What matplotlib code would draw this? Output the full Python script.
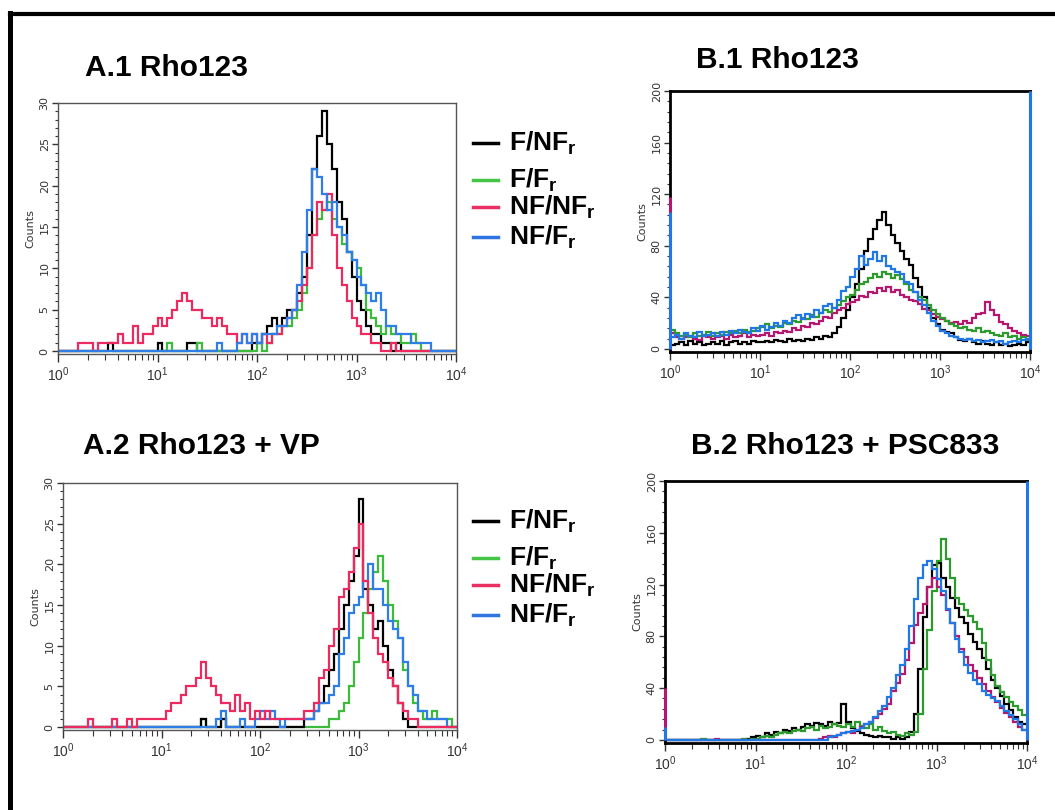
import matplotlib
matplotlib.use("Agg")
import matplotlib.pyplot as plt
import numpy as np
from matplotlib.ticker import MultipleLocator, LogLocator, NullFormatter, FixedLocator
from matplotlib.lines import Line2D

plt.rcParams['mathtext.fontset'] = 'custom'
plt.rcParams['mathtext.bf'] = 'Liberation Sans:bold'
plt.rcParams['mathtext.rm'] = 'Liberation Sans'

# channel edges: 20 bins per decade, 10^0 .. 10^4
edges = np.logspace(0, 4, 81)

# ---- A.1 Rho123 (counts 0-30)
a1_black = [0, 0, 0, 0, 0, 0, 0, 0, 0, 0,
            1, 0, 0, 0, 0, 0, 0, 0, 0, 0,
            1, 0, 0, 0, 0, 0, 1, 1, 0, 0,
            0, 0, 0, 0, 0, 0, 0, 0, 0, 1,
            1, 2, 3, 4, 3, 4, 5, 5, 7, 9,
            14, 22, 26, 29, 25, 22, 18, 16, 12, 9,
            6, 5, 3, 2, 2, 1, 1, 0, 1, 0,
            0, 0, 0, 0, 0, 0, 0, 0, 0, 0]
a1_green = [0, 0, 0, 0, 0, 0, 0, 0, 0, 0,
            0, 0, 0, 0, 0, 0, 0, 0, 0, 0,
            0, 0, 1, 0, 0, 0, 0, 0, 1, 0,
            0, 0, 0, 0, 0, 0, 0, 0, 0, 0,
            1, 0, 1, 2, 2, 3, 3, 4, 5, 7,
            10, 14, 16, 17, 18, 16, 15, 13, 12, 11,
            10, 8, 5, 4, 3, 2, 3, 2, 2, 1,
            1, 2, 1, 0, 0, 0, 0, 0, 0, 0]
a1_pink = [0, 0, 0, 0, 1, 1, 1, 0, 1, 1,
           1, 1, 2, 1, 1, 3, 1, 2, 2, 3,
           4, 3, 4, 5, 6, 7, 6, 5, 5, 4,
           4, 3, 4, 3, 2, 2, 1, 2, 1, 2,
           1, 2, 1, 2, 2, 3, 4, 5, 6, 8,
           10, 14, 18, 17, 19, 14, 10, 8, 6, 4,
           3, 2, 2, 1, 1, 0, 0, 1, 0, 0,
           0, 0, 0, 0, 0, 0, 0, 0, 0, 0]
a1_blue = [0, 0, 0, 0, 0, 0, 0, 0, 0, 0,
           0, 0, 0, 0, 0, 0, 0, 0, 0, 0,
           0, 0, 0, 0, 0, 0, 0, 0, 0, 0,
           0, 0, 1, 0, 0, 0, 1, 2, 1, 2,
           1, 2, 2, 2, 3, 3, 4, 5, 8, 12,
           17, 22, 21, 19, 17, 18, 15, 14, 12, 11,
           9, 8, 7, 6, 7, 5, 3, 3, 2, 2,
           2, 1, 1, 1, 1, 0, 0, 0, 0, 0]

# ---- A.2 Rho123 + VP (counts 0-30)
a2_black = [0, 0, 0, 0, 0, 0, 0, 0, 0, 0,
            0, 0, 0, 0, 0, 0, 0, 0, 0, 0,
            0, 0, 0, 0, 0, 0, 0, 0, 1, 0,
            0, 0, 1, 0, 0, 0, 0, 0, 0, 0,
            0, 0, 0, 0, 0, 0, 0, 0, 0, 1,
            1, 2, 3, 5, 7, 9, 12, 15, 18, 21,
            28, 17, 15, 12, 13, 10, 7, 5, 3, 1,
            0, 0, 0, 0, 0, 0, 0, 0, 0, 0]
a2_green = [0, 0, 0, 0, 0, 0, 0, 0, 0, 0,
            0, 0, 0, 0, 0, 0, 0, 0, 0, 0,
            0, 0, 0, 0, 0, 0, 0, 0, 1, 0,
            0, 0, 1, 0, 0, 0, 0, 0, 0, 0,
            0, 0, 0, 0, 0, 0, 0, 0, 0, 0,
            0, 0, 0, 0, 1, 1, 2, 3, 5, 8,
            11, 14, 17, 19, 21, 18, 15, 13, 11, 7,
            5, 3, 2, 1, 1, 2, 1, 1, 1, 0]
a2_pink = [0, 0, 0, 0, 0, 1, 0, 0, 0, 0,
           1, 0, 0, 1, 0, 1, 1, 1, 1, 1,
           1, 2, 3, 3, 4, 5, 5, 6, 8, 6,
           5, 4, 3, 3, 2, 4, 2, 3, 1, 2,
           1, 2, 1, 1, 1, 1, 1, 1, 1, 2,
           2, 3, 6, 7, 10, 12, 16, 17, 19, 22,
           25, 18, 14, 11, 9, 8, 6, 5, 3, 2,
           1, 1, 0, 0, 0, 0, 0, 0, 0, 0]
a2_blue = [0, 0, 0, 0, 0, 0, 0, 0, 0, 0,
           0, 0, 0, 0, 0, 0, 0, 0, 0, 0,
           0, 0, 0, 0, 0, 0, 0, 0, 0, 0,
           0, 1, 2, 0, 0, 0, 1, 0, 0, 1,
           2, 1, 2, 1, 0, 1, 1, 1, 1, 1,
           1, 2, 3, 3, 4, 5, 9, 11, 14, 15,
           16, 18, 20, 17, 17, 15, 13, 12, 11, 8,
           5, 4, 2, 2, 1, 1, 1, 1, 0, 0]

# ---- B.1 Rho123 (counts 0-200)
b1_black = [3, 4, 5, 3, 6, 4, 5, 3, 4, 5,
            4, 6, 3, 5, 6, 4, 5, 4, 6, 5,
            5, 6, 5, 7, 6, 5, 8, 6, 7, 6,
            8, 7, 9, 8, 10, 9, 12, 17, 24, 30,
            40, 50, 62, 76, 85, 93, 100, 106, 96, 88,
            82, 76, 70, 65, 55, 48, 40, 32, 24, 19,
            15, 13, 12, 9, 7, 6, 8, 5, 4, 6,
            4, 3, 5, 3, 4, 2, 3, 4, 3, 5]
b1_green = [15, 12, 10, 11, 9, 12, 10, 11, 13, 10,
            12, 11, 13, 12, 14, 12, 15, 13, 14, 16,
            17, 19, 16, 18, 17, 20, 19, 22, 21, 24,
            23, 26, 25, 28, 30, 29, 32, 34, 37, 40,
            42, 46, 50, 52, 55, 58, 56, 60, 58, 55,
            57, 54, 50, 46, 44, 40, 38, 34, 30, 27,
            24, 22, 19, 18, 16, 17, 15, 14, 16, 13,
            14, 12, 11, 10, 12, 9, 10, 8, 9, 7]
b1_magenta = [12, 9, 8, 9, 10, 8, 7, 10, 9, 8,
              9, 10, 8, 11, 9, 10, 12, 9, 11, 10,
              11, 12, 10, 13, 12, 14, 13, 16, 15, 18,
              17, 20, 19, 22, 25, 24, 28, 30, 32, 35,
              36, 38, 41, 40, 44, 43, 47, 45, 48, 44,
              46, 42, 40, 38, 37, 35, 31, 30, 27, 25,
              23, 22, 20, 21, 19, 22, 20, 24, 27, 28,
              36, 30, 26, 21, 19, 16, 14, 12, 11, 10]
b1_blue = [9, 11, 8, 12, 10, 9, 13, 10, 11, 12,
           10, 13, 11, 14, 12, 15, 13, 12, 16, 14,
           18, 15, 17, 20, 18, 22, 20, 24, 26, 23,
           27, 25, 30, 28, 33, 35, 32, 38, 45, 48,
           56, 62, 72, 65, 70, 75, 68, 72, 64, 62,
           60, 58, 52, 50, 44, 38, 34, 28, 22, 18,
           14, 12, 10, 9, 8, 7, 8, 6, 7, 5,
           6, 7, 5, 6, 4, 5, 6, 5, 7, 8]
# first / last channel pile-ups (black, green, magenta, blue)
b1_first = [0, 0, 118, 106]
b1_last = [0, 100, 200, 200]

# ---- B.2 Rho123 + PSC833 (counts 0-200)
b2_black = [0, 0, 0, 0, 0, 0, 0, 0, 0, 0,
            0, 0, 0, 0, 0, 0, 0, 0, 1, 2,
            3, 2, 5, 4, 6, 5, 8, 7, 9, 8,
            10, 12, 11, 13, 12, 11, 14, 12, 13, 28,
            14, 9, 7, 5, 4, 3, 2, 3, 2, 2,
            1, 2, 1, 2, 6, 20, 55, 95, 118, 135,
            137, 125, 118, 110, 102, 95, 90, 82, 76, 70,
            63, 55, 46, 40, 34, 28, 23, 18, 14, 12]
b2_green = [0, 0, 0, 0, 0, 0, 0, 0, 1, 0,
            0, 0, 0, 0, 0, 0, 0, 1, 0, 1,
            1, 2, 3, 2, 4, 5, 6, 5, 7, 8,
            7, 9, 10, 8, 11, 9, 10, 12, 11, 10,
            12, 10, 14, 11, 9, 12, 8, 10, 7, 5,
            6, 4, 3, 5, 4, 6, 20, 55, 85, 115,
            138, 155, 140, 125, 110, 105, 100, 96, 91, 86,
            75, 62, 50, 42, 37, 33, 29, 26, 23, 19]
b2_magenta = [0, 0, 0, 0, 0, 0, 0, 0, 0, 0,
              0, 1, 0, 0, 0, 0, 0, 0, 0, 0,
              0, 0, 0, 0, 0, 0, 0, 0, 0, 0,
              0, 0, 0, 0, 1, 2, 3, 2, 4, 5,
              6, 5, 8, 10, 12, 14, 17, 20, 24, 28,
              38, 44, 51, 62, 75, 89, 98, 105, 118, 125,
              118, 112, 100, 90, 80, 70, 64, 58, 53, 48,
              43, 38, 33, 29, 25, 21, 18, 14, 10, 8]
b2_blue = [0, 0, 0, 0, 0, 0, 0, 0, 0, 0,
           0, 0, 0, 0, 0, 0, 0, 0, 0, 0,
           0, 0, 0, 0, 0, 0, 0, 0, 0, 0,
           0, 0, 0, 0, 0, 0, 2, 3, 4, 5,
           6, 7, 8, 9, 12, 14, 18, 22, 26, 33,
           40, 50, 58, 70, 88, 109, 125, 135, 138, 132,
           124, 115, 101, 90, 78, 68, 58, 52, 46, 43,
           38, 35, 32, 30, 26, 22, 19, 16, 12, 8]
b2_first = [0, 0, 40, 10]
b2_last = [0, 0, 100, 200]

legend_labels = ['F/NF$_\\mathbf{r}$', 'F/F$_\\mathbf{r}$',
                 'NF/NF$_\\mathbf{r}$', 'NF/F$_\\mathbf{r}$']
legend_colors = ['#000000', '#45c445', '#ea2f62', '#2f74e0']

W, H = 1055, 810
fig = plt.figure(figsize=(W / 100, H / 100), dpi=100)


def px_axes(l, t, r, b):
    return fig.add_axes([l / W, 1 - b / H, (r - l) / W, (b - t) / H])


def style(ax, ymax, ymajor, yminor, spine_c, spine_w):
    ax.set_xscale('log')
    ax.set_xlim(1, 1e4)
    ax.set_ylim(-ymax * 0.012, ymax)
    ax.yaxis.set_major_locator(MultipleLocator(ymajor))
    ax.yaxis.set_minor_locator(MultipleLocator(yminor))
    ax.xaxis.set_major_locator(FixedLocator([1, 10, 100, 1000, 10000]))
    ax.xaxis.set_minor_locator(LogLocator(base=10, subs=np.arange(2, 10)))
    ax.xaxis.set_minor_formatter(NullFormatter())
    ax.set_xticklabels(['$10^{0}$', '$10^{1}$', '$10^{2}$', '$10^{3}$', '$10^{4}$'])
    for lab in ax.get_yticklabels():
        lab.set_rotation(90)
        lab.set_va('center')
    ax.tick_params(axis='y', which='major', length=4, width=1, pad=2,
                   labelsize=8, labelcolor='#333333', color='#333333')
    ax.tick_params(axis='y', which='minor', length=2.5, width=0.8, color='#333333')
    ax.tick_params(axis='x', which='major', length=6, width=1, pad=2,
                   labelsize=10, labelcolor='#333333', color='#333333')
    ax.tick_params(axis='x', which='minor', length=4, width=0.8, color='#333333')
    for s in ax.spines.values():
        s.set_color(spine_c)
        s.set_linewidth(spine_w)
    ax.set_ylabel('Counts', fontsize=8, color='#333333', labelpad=3)


def draw(ax, series, colors, lw):
    for vals, c in zip(series, colors):
        ax.stairs(vals, edges, color=c, lw=lw, baseline=None)


def edge_spikes(ax, first, last, colors):
    for v, c in zip(first, colors):
        if v > 0:
            ax.vlines(1, 0, v, color=c, lw=2.2, clip_on=False, zorder=4)
    for v, c in zip(last, colors):
        if v > 0:
            ax.vlines(1e4, 0, v, color=c, lw=2.2, clip_on=False, zorder=4)


colA = {'black': '#000000', 'green': '#3dbb3d', 'pink': '#ec2a60', 'blue': '#2f7ee8'}
colB = {'black': '#000000', 'green': '#2c9a2c', 'mag': '#b5176e', 'blue': '#1f78e6'}

# A.1
ax1 = px_axes(58, 103, 456, 354)
draw(ax1, [a1_black, a1_green, a1_pink, a1_blue],
     [colA['black'], colA['green'], colA['pink'], colA['blue']], 1.6)
style(ax1, 30, 5, 1, '#555555', 1.0)

# A.2
ax2 = px_axes(63, 483, 457, 730)
draw(ax2, [a2_green, a2_black, a2_blue, a2_pink],
     [colA['green'], colA['black'], colA['blue'], colA['pink']], 1.6)
style(ax2, 30, 5, 1, '#555555', 1.0)

# B.1
ax3 = px_axes(670, 91, 1030, 352)
b_cols = [colB['black'], colB['green'], colB['mag'], colB['blue']]
draw(ax3, [b1_black, b1_magenta, b1_green, b1_blue],
     [colB['black'], colB['mag'], colB['green'], colB['blue']], 1.6)
style(ax3, 200, 40, 8, '#000000', 2.0)
edge_spikes(ax3, b1_first, b1_last, b_cols)

# B.2
ax4 = px_axes(665, 481, 1027, 743)
draw(ax4, [b2_black, b2_green, b2_magenta, b2_blue],
     [colB['black'], colB['green'], colB['mag'], colB['blue']], 1.6)
style(ax4, 200, 40, 8, '#000000', 2.0)
edge_spikes(ax4, b2_first, b2_last, b_cols)

# titles
title_font = dict(family='Liberation Sans', fontweight='bold',
                  fontsize=21.5, va='center')
fig.text(85 / W, 1 - 68 / H, 'A.1 Rho123', ha='left', **title_font)
fig.text(83 / W, 1 - 446 / H, 'A.2 Rho123 + VP', ha='left', **title_font)
fig.text(777 / W, 1 - 60 / H, 'B.1 Rho123', ha='center', **title_font)
fig.text(845 / W, 1 - 446 / H, 'B.2 Rho123 + PSC833', ha='center', **title_font)

# legends (same for both A panels)
for dy in (0, 378):
    for k, (lab, c) in enumerate(zip(legend_labels, legend_colors)):
        yc = [143, 180, 207, 237][k] + dy
        fig.add_artist(Line2D([473 / W, 498 / W], [1 - yc / H, 1 - yc / H],
                              color=c, lw=2.5))
        fig.text(509 / W, 1 - yc / H, lab, fontsize=19, fontweight='bold',
                 family='Liberation Sans', va='center', ha='left')

# outer frame (top and left)
fig.add_artist(Line2D([10 / W, 1.0], [1 - 14 / H, 1 - 14 / H], color='black', lw=3))
fig.add_artist(Line2D([10 / W, 10 / W], [0, 1 - 13 / H], color='black', lw=3.6))

fig.savefig('out.png', dpi=100)
